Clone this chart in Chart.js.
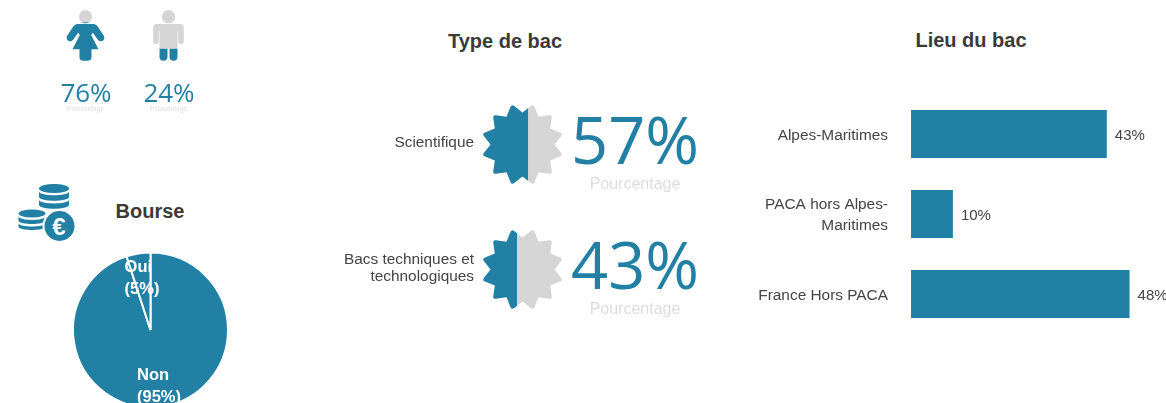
<!DOCTYPE html>
<html lang="fr"><head><meta charset="utf-8">
<script src="https://cdn.jsdelivr.net/npm/chart.js@4/dist/chart.umd.min.js"></script>
<style>
html,body{margin:0;padding:0;background:#fff;width:1166px;height:403px;overflow:hidden}
canvas,svg,.t{position:absolute}
.t{font:bold 20px "Liberation Sans",Arial,sans-serif;color:#3a3a3a;white-space:nowrap;transform:translateX(-50%);line-height:22px}
</style></head><body>
<div class="t" style="left:505px;top:30px">Type de bac</div>
<div class="t" style="left:971px;top:29px">Lieu du bac</div>
<div class="t" style="left:150px;top:200px">Bourse</div>
<svg style="left:0;top:170px" width="90" height="80" viewBox="0 170 90 80" fill="#2280a5">
<ellipse cx="54" cy="188.500" rx="15" ry="4.500"/>
<path d="M39 191.500C40 196.500 68 196.500 69 191.500V197C68 202 40 202 39 197Z"/>
<path d="M39 200C40 204.500 68 204.500 69 200V205C68 210 40 210 39 205Z"/>
<ellipse cx="32" cy="213.500" rx="13.500" ry="4"/>
<path d="M18.500 216.500C20 221 44 221 45.500 216.500V221C44 225 20 225 18.500 221Z"/>
<path d="M18.500 223.500C20 227.500 44 227.500 45.500 223.500V227C44 231 20 231 18.500 227Z"/>
<circle cx="59.500" cy="226" r="16" stroke="#fff" stroke-width="2"/>
<text x="59" y="234.500" fill="#fff" font-family="Liberation Sans" font-weight="bold" font-size="24" text-anchor="middle">€</text>
</svg>
<canvas id="people" style="left:44px;top:0" width="166" height="120"></canvas>
<canvas id="pie" style="left:60px;top:249px" width="181" height="162"></canvas>
<canvas id="gauge" style="left:340px;top:82px" width="370" height="250"></canvas>
<canvas id="lieu" style="left:700px;top:94px" width="466" height="240"></canvas>
<script>
const BLUE='#2280a5',GREY='#d5d5d5',SANS='"Liberation Sans",Arial,sans-serif',OPEN='"Open Sans",sans-serif';
const genderLabels=['Femmes','Hommes'];
const genderValues=[76,24];
const bacLabels=['Scientifique',['Bacs techniques et','technologiques']];
const bacValues=[57,43];
const bourseLabels=['Non','Oui'];
const bourseValues=[95,5];
const lieuLabels=['Alpes-Maritimes',['PACA hors Alpes-','Maritimes'],'France Hors PACA'];
const lieuValues=[43,9.2,48];
const lieuShown=['43%','10%','48%'];
const unitLabel='Pourcentage';
Chart.defaults.animation=false;
Chart.defaults.responsive=false;
Chart.defaults.plugins.legend.display=false;
Chart.defaults.plugins.tooltip.enabled=false;
const rest=a=>a.map(v=>100-v);
const WOMAN=new Path2D('M20 20A20 20 0 1 1-20 20A20 20 0 1 1 20 20ZM-24 42Q-30 42-35 47L-54 76Q-60 86-52 92Q-44 97-37 89L-22 68L-17 75L-39 118L-18 118L-18 142Q-18 152-8 152L8 152Q18 152 18 142L18 118L39 118L17 75L22 68L37 89Q44 97 52 92Q60 86 54 76L35 47Q30 42 24 42Z');
const MAN=new Path2D('M20 20A20 20 0 1 1-20 20A20 20 0 1 1 20 20ZM-35 42L35 42Q46 42 46 54L46 92Q46 102 37 102Q29 102 29 92L29 62L27 62L27 140Q27 152 15 152Q3 152 3 140L3 115L-3 115L-3 140Q-3 152-15 152Q-27 152-27 140L-27 62L-29 62L-29 92Q-29 102-37 102Q-46 102-46 92L-46 54Q-46 42-35 42Z');

function starPath(ctx,cx,cy){
  const R=42,r=32,n=12,P=(a,q)=>[cx+q*Math.cos(a),cy+q*Math.sin(a)],L=(a,b,t)=>[a[0]+(b[0]-a[0])*t,a[1]+(b[1]-a[1])*t];
  const st=Math.PI/6,o=Math.PI/12;
  for(let i=0;i<n;i++){
    const tip=P(o+i*st,R),v0=P(i*st,r),v1=P((i+1)*st,r),a=L(v0,tip,.76),b=L(v1,tip,.76);
    if(i===0)ctx.moveTo(v0[0],v0[1]);else ctx.lineTo(v0[0],v0[1]);
    ctx.lineTo(a[0],a[1]);ctx.quadraticCurveTo(tip[0],tip[1],b[0],b[1]);
  }
  ctx.closePath();
}
const noPad=s=>{s.paddingTop=0;s.paddingBottom=0;};

new Chart('people',{type:'bar',
 data:{labels:genderLabels,datasets:[
  {data:genderValues,backgroundColor:BLUE,stack:'s'},
  {data:rest(genderValues),backgroundColor:GREY,stack:'s'}]},
 options:{layout:{padding:{top:10,bottom:59,left:0,right:0}},
  datasets:{bar:{categoryPercentage:1,barPercentage:.6}},
  scales:{x:{display:false,stacked:true},y:{display:false,stacked:true,min:0,max:100}}},
 plugins:[{id:'peopleClip',
  beforeDatasetsDraw(c){const x=c.ctx,m=c.getDatasetMeta(0).data,a=c.chartArea;x.save();
    const p=new Path2D(),s=1/3;
    p.addPath(WOMAN,new DOMMatrix([s,0,0,s,m[0].x,a.top]));
    p.addPath(MAN,new DOMMatrix([s,0,0,s,m[1].x,a.top]));
    x.clip(p);},
  afterDatasetsDraw(c){c.ctx.restore();},
  afterDraw(c){const x=c.ctx,m=c.getDatasetMeta(0).data;x.save();x.textAlign='center';
    m.forEach((b,i)=>{x.fillStyle=BLUE;x.font='26px '+OPEN;x.fillText(genderValues[i]+'%',b.x+.5,101.500);
      x.fillStyle='#ddd';x.font='6.500px '+SANS;x.fillText(unitLabel,b.x,111);});
    x.restore();}}]});

new Chart('gauge',{type:'bar',
 data:{labels:bacLabels,datasets:[
  {data:bacValues,backgroundColor:BLUE,stack:'s'},
  {data:rest(bacValues),backgroundColor:GREY,stack:'s'}]},
 options:{indexAxis:'y',layout:{padding:{right:148}},
  datasets:{bar:{categoryPercentage:1,barPercentage:.66}},
  scales:{x:{display:false,stacked:true,min:0,max:100},
   y:{stacked:true,border:{display:false},grid:{display:false,drawTicks:false},
    afterFit(s){s.width=143;noPad(s);},
    ticks:{color:'#444',padding:9,labelOffset:-1.500,font:{family:SANS,size:15.400,lineHeight:1.12}}}}},
 plugins:[{id:'starClip',
  beforeDatasetsDraw(c){const x=c.ctx,a=c.chartArea,cx=(a.left+a.right)/2;x.save();x.beginPath();
    c.getDatasetMeta(0).data.forEach(b=>starPath(x,cx,b.y));x.clip();},
  afterDatasetsDraw(c){c.ctx.restore();},
  afterDraw(c){const x=c.ctx;x.save();x.textAlign='center';
    c.getDatasetMeta(0).data.forEach((b,i)=>{x.fillStyle=BLUE;x.font='65px '+OPEN;x.fillText(bacValues[i]+'%',295,b.y+19.500);
      x.fillStyle='#ddd';x.font='16px '+SANS;x.fillText(unitLabel,295,b.y+44);});
    x.restore();}}]});

new Chart('pie',{type:'pie',
 data:{labels:bourseLabels,datasets:[{data:bourseValues,backgroundColor:BLUE,borderColor:'#fff',borderWidth:2}]},
 options:{layout:{padding:0},radius:77.500},
 plugins:[{id:'pieLabels',afterDraw(c){const x=c.ctx;x.save();x.fillStyle='#fff';x.font='bold 16.500px '+SANS;x.textBaseline='middle';
    c.getDatasetMeta(0).data.forEach((a,i)=>{const mid=(a.startAngle+a.endAngle)/2,R=a.outerRadius*.7,
      px=a.x+R*Math.cos(mid),py=a.y+R*Math.sin(mid),
      l=[bourseLabels[i],'('+bourseValues[i]+'%)'],w=Math.max(...l.map(t=>x.measureText(t).width));
      x.textAlign='left';l.forEach((t,j)=>x.fillText(t,px-w/2,py+2.5+(j-.5)*22));});
    x.restore();}}]});

new Chart('lieu',{type:'bar',
 data:{labels:lieuLabels,datasets:[{data:lieuValues,backgroundColor:BLUE}]},
 options:{indexAxis:'y',
  datasets:{bar:{categoryPercentage:1,barPercentage:.6}},
  scales:{x:{display:false,min:0,max:56},
   y:{border:{display:false},grid:{display:false,drawTicks:false},
    afterFit(s){s.width=211;noPad(s);},
    ticks:{color:'#444',padding:23,labelOffset:1.500,font:{family:SANS,size:15.400,lineHeight:1.36}}}}},
 plugins:[{id:'barLabels',afterDatasetsDraw(c){const x=c.ctx;x.save();x.fillStyle='#444';x.font='15px '+SANS;x.textBaseline='middle';
    c.getDatasetMeta(0).data.forEach((b,i)=>x.fillText(lieuShown[i],b.x+8,b.y+2));x.restore();}}]});
</script>
</body></html>
